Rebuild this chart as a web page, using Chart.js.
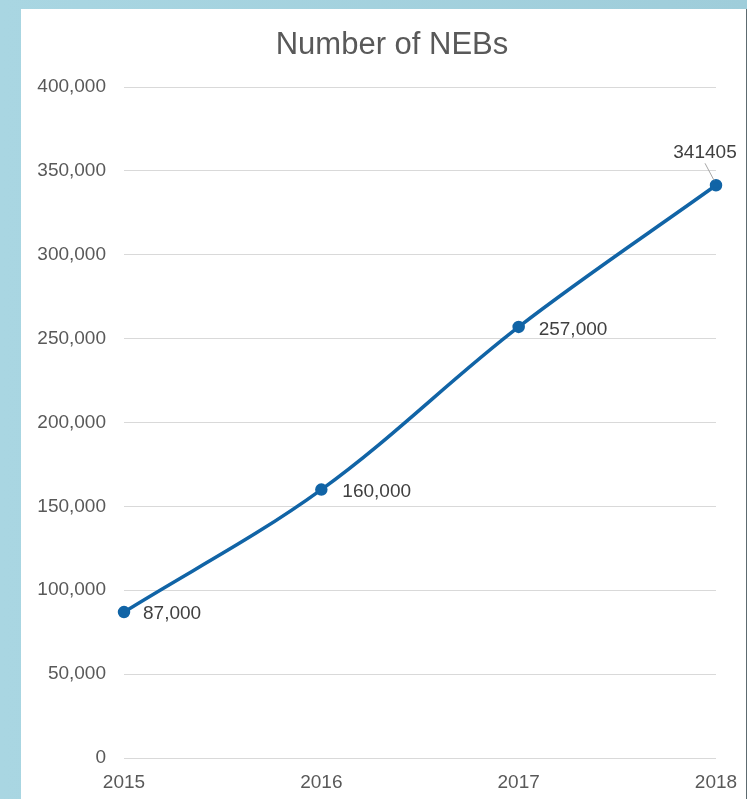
<!DOCTYPE html>
<html>
<head>
<meta charset="utf-8">
<script src="https://cdn.jsdelivr.net/npm/chart.js@4/dist/chart.umd.min.js"></script>
<style>
  html, body { margin: 0; padding: 0; }
  body {
    width: 747px; height: 799px; overflow: hidden;
    background: linear-gradient(90deg, #a9d6e2 0%, #9fcdda 100%);
    position: relative;
  }
  #panel {
    position: absolute; left: 21px; top: 9px; width: 725px; height: 790px;
    background: #fff; border-right: 1px solid #5d6b70;
  }
</style>
</head>
<body>
<div id="panel"><canvas id="chart" width="725" height="790"></canvas></div>
<script>
const years = ['2015', '2016', '2017', '2018'];
const nebCounts = [87000, 160000, 257000, 341405];
const pointLabels = ['87,000', '160,000', '257,000', '341405'];
const yTicks = [0, 50000, 100000, 150000, 200000, 250000, 300000, 350000, 400000];
const chartTitle = 'Number of NEBs';

// label offsets from each point (dx, dy), last one sits above with a leader line
const labelOffsets = [[19, 2], [21, 2], [20, 3], [-11, -33]];

const FONT = '"Liberation Sans", Arial, sans-serif';

// title drawn by hand so it sits where the original does (a bit right of centre)
const titlePlugin = {
  id: 'fixedTitle',
  afterDraw(chart) {
    const ctx = chart.ctx;
    ctx.save();
    ctx.font = '31px ' + FONT;
    ctx.fillStyle = '#595959';
    ctx.textAlign = 'center';
    ctx.textBaseline = 'middle';
    ctx.fillText(chartTitle, 371, 36);
    ctx.restore();
  }
};

const pointLabelPlugin = {
  id: 'pointLabels',
  afterDatasetsDraw(chart) {
    const ctx = chart.ctx;
    const meta = chart.getDatasetMeta(0);
    ctx.save();
    ctx.font = '19px ' + FONT;
    ctx.fillStyle = '#404040';
    ctx.textBaseline = 'middle';
    meta.data.forEach((pt, i) => {
      const [dx, dy] = labelOffsets[i];
      const x = pt.x + dx, y = pt.y + dy;
      if (i === meta.data.length - 1) {
        ctx.textAlign = 'center';
        ctx.fillText(pointLabels[i], x, y);
        ctx.strokeStyle = '#a6a6a6';
        ctx.lineWidth = 1;
        ctx.beginPath();
        ctx.moveTo(x, y + 11);
        ctx.lineTo(pt.x - 2, pt.y - 5);
        ctx.stroke();
      } else {
        ctx.textAlign = 'left';
        ctx.fillText(pointLabels[i], x, y);
      }
    });
    ctx.restore();
  }
};

new Chart(document.getElementById('chart'), {
  type: 'line',
  data: {
    labels: years,
    datasets: [{
      label: chartTitle,
      data: nebCounts,
      borderColor: '#1164a6',
      backgroundColor: '#1164a6',
      borderWidth: 3.5,
      pointRadius: 4.5,
      pointHoverRadius: 4.5,
      tension: 0.35,
      fill: false
    }]
  },
  options: {
    responsive: false,
    animation: false,
    layout: { padding: { left: 0, right: 30, top: 78, bottom: 0 } },
    plugins: {
      legend: { display: false },
      tooltip: { enabled: false },
      title: { display: false }
    },
    scales: {
      x: {
        offset: false,
        grid: { display: false, drawTicks: false },
        border: { display: false },
        ticks: { color: '#595959', font: { family: FONT, size: 19 }, padding: 13, maxRotation: 0 },
        afterFit(scale) {
          scale.height = 41;
          scale.paddingLeft = 0;
          scale.paddingRight = 0;
        }
      },
      y: {
        min: 0,
        max: 400000,
        afterBuildTicks(scale) { scale.ticks = yTicks.map(v => ({ value: v })); },
        grid: { color: '#d9d9d9', lineWidth: 1, drawTicks: false },
        border: { display: false },
        ticks: {
          color: '#595959',
          font: { family: FONT, size: 19 },
          padding: 18,
          callback: v => v.toLocaleString('en-US')
        },
        afterFit(scale) { scale.width = 103; }
      }
    }
  },
  plugins: [pointLabelPlugin, titlePlugin]
});
</script>
</body>
</html>
